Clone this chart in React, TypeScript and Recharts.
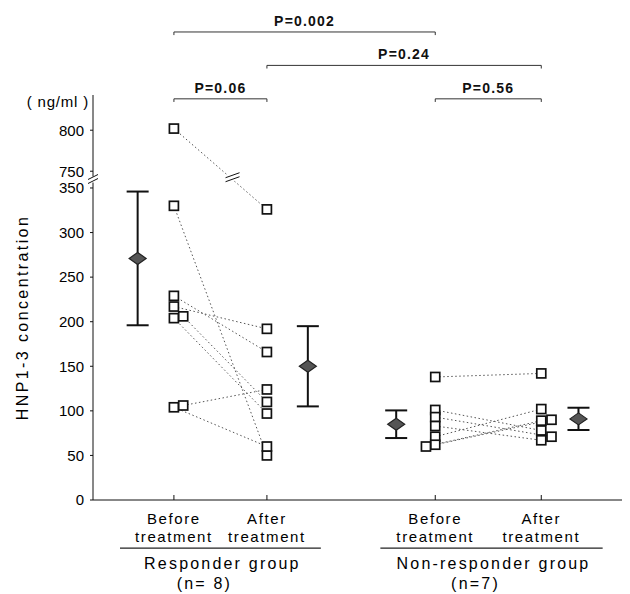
import React from "react"
import {
  ComposedChart,
  Scatter,
  XAxis,
  YAxis,
  ErrorBar,
  ReferenceLine,
  ReferenceDot,
  Label,
} from "recharts"

const FONT = "'Liberation Sans', Arial, sans-serif"

// y-axis ticks (ng/ml); the axis is broken between 350 and 750
const yTicks = [0, 50, 100, 150, 200, 250, 300, 350, 750, 800]

// x slots: before/after for each group
const slotX = [0.87, 1.87, 3.68, 4.82]
const xTickTop = ["Before", "After", "Before", "After"]
const xTickBottom = ["treatment", "treatment", "treatment", "treatment"]

// responder group, one entry per patient
const responderBefore = [802, 330, 229, 217, 204, 206, 104, 106]
const responderAfter = [326, 50, 166, 192, 97, 110, 60, 124]
const responderBeforeShift = [0, 0, 0, 0, 0, 0.1, 0, 0.1]
const responderAfterShift = [0, 0, 0, 0, 0, 0, 0, 0]

// non-responder group
const nonBefore = [138, 101, 93, 83, 71, 62, 60]
const nonAfter = [142, 78, 71, 67, 102, 90, 89]
const nonBeforeShift = [0, 0, 0, 0, 0, 0, -0.1]
const nonAfterShift = [0, 0, 0.11, 0, 0, 0.11, 0]

// mean ± SD per slot
const meanValues = [271, 150, 85, 91]
const sdValues = [75, 45, 15.5, 12.5]
const meanShift = [-0.39, 0.44, -0.42, 0.4]

// significance brackets
const pLabels = ["P=0.002", "P=0.24", "P=0.06", "P=0.56"]
const pFrom = [0, 1, 0, 2]
const pTo = [2, 3, 1, 3]
const pTier = [2, 1, 0, 0]

const groupNames = ["Responder group", "Non-responder group"]
const groupSizes = ["(n= 8)", "(n=7)"]

// broken-axis transform
const LOWER_MAX = 350
const UPPER_MIN = 750
const BREAK_GAP = 18.8
const UPPER_SCALE = 0.92
const toDisplay = (v: number) =>
  v <= LOWER_MAX ? v : LOWER_MAX + BREAK_GAP + (v - UPPER_MIN) * UPPER_SCALE
const BREAK_Y = LOWER_MAX + 9.5
const Y_TOP = 454.3
const X_MAX = 5.688
const tickDisplay = yTicks.map(toDisplay)

type Pt = { x: number; y: number }

const pairs: Pt[][] = [
  ...responderBefore.map((b, i) => [
    { x: slotX[0] + responderBeforeShift[i], y: toDisplay(b) },
    { x: slotX[1] + responderAfterShift[i], y: toDisplay(responderAfter[i]) },
  ]),
  ...nonBefore.map((b, i) => [
    { x: slotX[2] + nonBeforeShift[i], y: toDisplay(b) },
    { x: slotX[3] + nonAfterShift[i], y: toDisplay(nonAfter[i]) },
  ]),
]
const allPoints = pairs.flat()

const meanData = meanValues.map((m, i) => ({
  x: slotX[i] + meanShift[i],
  y: m,
  sd: sdValues[i],
}))

// where the 802 -> 326 line crosses the break
const brokenPair = pairs[0]
const tBreak = (brokenPair[0].y - BREAK_Y) / (brokenPair[0].y - brokenPair[1].y)
const lineBreakX = brokenPair[0].x + (brokenPair[1].x - brokenPair[0].x) * tBreak

const tierY = (tier: number) => 450 + tier * 37.5
const underlineY = -54

const Square = ({ cx, cy }: { cx?: number; cy?: number }) => (
  <rect x={(cx ?? 0) - 4.5} y={(cy ?? 0) - 4.5} width={9} height={9} fill="#fff" stroke="#111" strokeWidth={1.7} />
)

const Diamond = ({ cx, cy }: { cx?: number; cy?: number }) => {
  const x = cx ?? 0
  const y = cy ?? 0
  return (
    <polygon
      points={`${x - 8.5},${y} ${x},${y - 6} ${x + 8.5},${y} ${x},${y + 6}`}
      fill="#555"
      stroke="#222"
      strokeWidth={1.2}
    />
  )
}

const BreakMark = ({ cx, cy, wide }: { cx?: number; cy?: number; wide?: boolean }) => {
  const x = cx ?? 0
  const y = cy ?? 0
  const w = wide ? 7 : 5
  return (
    <g>
      <rect x={x - w} y={y - 3} width={w * 2} height={6} fill="#fff" />
      <line x1={x - w} y1={y} x2={x + w} y2={y - 5} stroke="#111" strokeWidth={1} />
      <line x1={x - w} y1={y + 4} x2={x + w} y2={y - 1} stroke="#111" strokeWidth={1} />
    </g>
  )
}

function TreatmentTick(props: any) {
  const { x, y, index } = props
  return (
    <g fontSize={15} fontFamily={FONT} fill="#000" textAnchor="middle" letterSpacing={1.6}>
      <line x1={x} x2={x} y1={y - 5} y2={y} stroke="#111" />
      <text x={x} y={y + 24}>{xTickTop[index]}</text>
      <text x={x} y={y + 42}>{xTickBottom[index]}</text>
    </g>
  )
}

function AxisTitle(props: any) {
  const vb = props.viewBox
  const cy = vb.y + vb.height / 2 + 20
  return (
    <g fontFamily={FONT} fill="#000">
      <text x={vb.x + vb.width - 4} y={vb.y + 12} textAnchor="end" fontSize={15} letterSpacing={0.8}>
        ( ng/ml )
      </text>
      <text
        x={22}
        y={cy}
        textAnchor="middle"
        dominantBaseline="central"
        fontSize={16}
        letterSpacing={2.4}
        transform={`rotate(-90 22 ${cy})`}
      >
        HNP1-3 concentration
      </text>
    </g>
  )
}

const pLabel = (text: string) => (props: any) => {
  const vb = props.viewBox
  return (
    <text
      x={vb.x + vb.width / 2}
      y={vb.y - 6}
      textAnchor="middle"
      fontSize={14}
      fontWeight="bold"
      letterSpacing={1.2}
      fontFamily={FONT}
      fill="#111"
    >
      {text}
    </text>
  )
}

const groupLabel = (i: number) => (props: any) => {
  const vb = props.viewBox
  const cx = vb.x + vb.width / 2
  return (
    <g fontFamily={FONT} fill="#000" fontSize={16} textAnchor="middle" letterSpacing={2.2}>
      <text x={cx + 2} y={vb.y + 21}>{groupNames[i]}</text>
      <text x={cx - 16} y={vb.y + 41}>{groupSizes[i]}</text>
    </g>
  )
}

const groupSpans = [
  [slotX[0] - 0.58, slotX[1] + 0.58],
  [slotX[2] - 0.59, slotX[3] + 0.66],
]

export default function App() {
  return (
    <div style={{ position: "absolute", left: 0, top: 0, background: "#fff" }}>
      <ComposedChart width={630} height={594} margin={{ top: 95, right: 8, bottom: 34, left: 0 }}>
        <XAxis
          type="number"
          dataKey="x"
          domain={[0, X_MAX]}
          ticks={slotX}
          interval={0}
          tick={<TreatmentTick />}
          tickLine={false}
          tickSize={0}
          tickMargin={0}
          height={60}
          axisLine={{ stroke: "#111" }}
          allowDataOverflow
        />
        <YAxis
          type="number"
          dataKey="y"
          domain={[0, Y_TOP]}
          ticks={tickDisplay}
          interval={0}
          tickFormatter={(d: number) => String(yTicks[tickDisplay.indexOf(d)])}
          tick={{ fontSize: 15, fontFamily: FONT, fill: "#000" }}
          tickSize={3}
          tickMargin={6}
          tickLine={{ stroke: "#111" }}
          axisLine={{ stroke: "#111" }}
          width={93}
          allowDataOverflow
        >
          <Label content={AxisTitle} />
        </YAxis>

        {pairs.map((p, i) => (
          <Scatter
            key={`pair-${i}`}
            data={p}
            line={{ stroke: "#555", strokeWidth: 1, strokeDasharray: "1.5 2.5" }}
            shape={() => <g />}
            isAnimationActive={false}
          />
        ))}
        <ReferenceDot x={lineBreakX} y={BREAK_Y + 2} r={0} ifOverflow="visible" shape={(p: any) => <BreakMark {...p} wide />} />
        <Scatter data={allPoints} shape={Square} isAnimationActive={false} />
        <Scatter data={meanData} shape={Diamond} isAnimationActive={false}>
          <ErrorBar dataKey="sd" direction="y" width={11} strokeWidth={2} stroke="#111" />
        </Scatter>

        <ReferenceDot x={0} y={BREAK_Y} r={0} ifOverflow="visible" shape={(p: any) => <BreakMark {...p} />} />

        {pLabels.map((text, i) => {
          const y = tierY(pTier[i])
          const x1 = slotX[pFrom[i]]
          const x2 = slotX[pTo[i]]
          return (
            <React.Fragment key={`p-${i}`}>
              <ReferenceLine
                segment={[{ x: x1, y }, { x: x2, y }]}
                stroke="#333"
                strokeWidth={1}
                ifOverflow="visible"
                label={pLabel(text)}
              />
              <ReferenceLine segment={[{ x: x1, y }, { x: x1, y: y - 3.5 }]} stroke="#333" ifOverflow="visible" />
              <ReferenceLine segment={[{ x: x2, y }, { x: x2, y: y - 3.5 }]} stroke="#333" ifOverflow="visible" />
            </React.Fragment>
          )
        })}

        {groupSpans.map((s, i) => (
          <ReferenceLine
            key={`g-${i}`}
            segment={[{ x: s[0], y: underlineY }, { x: s[1], y: underlineY }]}
            stroke="#222"
            strokeWidth={1.2}
            ifOverflow="visible"
            label={groupLabel(i)}
          />
        ))}
      </ComposedChart>
    </div>
  )
}
